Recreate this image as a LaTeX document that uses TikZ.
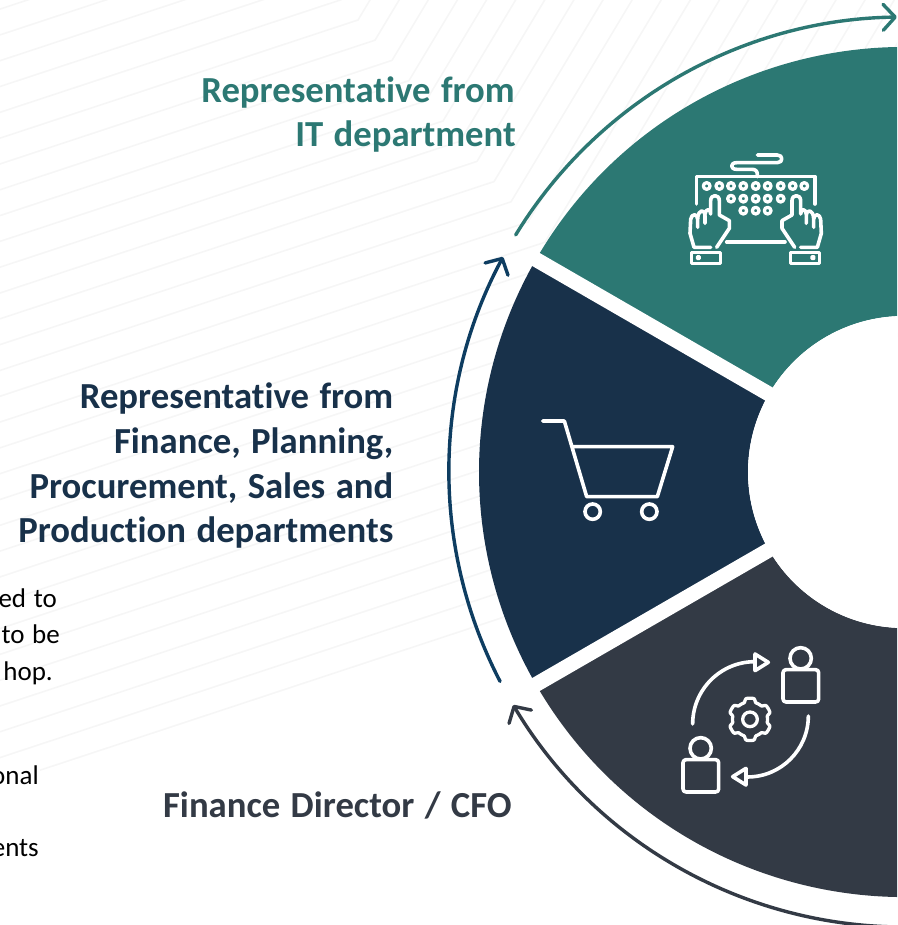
\documentclass[tikz,border=0pt]{standalone}
\usepackage{fontspec}
\setmainfont{Carlito}[Ligatures={NoCommon},WordSpace=1.25]
\usetikzlibrary{arrows.meta}
\definecolor{tealc}{HTML}{2C7873}
\definecolor{navyc}{HTML}{18314A}
\definecolor{darkc}{HTML}{333A45}
\definecolor{navyarrow}{HTML}{0E3D61}
\definecolor{bgline}{HTML}{F6F6F6}
\tikzset{
  heading/.style={anchor=base east,inner sep=0pt,font=\fontsize{36.7}{44}\selectfont\bfseries},
  bodytext/.style={anchor=base east,inner sep=0pt,text=black,font=\fontsize{27}{32}\selectfont},
  ringarrow/.style={line width=3.4pt,line cap=round,-{Straight Barb[length=12pt,width=26pt,line width=3.4pt,round]}},
  icon/.style={draw=white,line width=3.6pt,line cap=round,line join=round},
  iconthin/.style={draw=white,line width=3.3pt,line cap=round,line join=round}
}
\begin{document}
\begin{tikzpicture}[x=1pt,y=-1pt]
\useasboundingbox (0,0) rectangle (897,925);
\clip (0,0) rectangle (897,925);
% background line pattern
\foreach \k in {-6,...,25}{
  \pgfmathsetmacro{\kx}{358+17*\k}
  \pgfmathsetmacro{\ky}{20+20.2*\k}
  \pgfmathsetmacro{\lx}{ifthenelse(\k==25,40,-5)}
  \pgfmathsetmacro{\ly}{\ky+0.33*(\kx-\lx)}
  \pgfmathsetmacro{\tx}{\kx+0.6*(\ky+5)}
  \draw[bgline,line width=1.6pt,line join=round] (\lx,\ly) -- (\kx,\ky) -- (\tx,-5);
}
% ring
\begin{scope}[shift={(904,472)}]
  \fill[tealc] (210:425) arc[start angle=210,end angle=300,radius=425] -- (300:156) arc[start angle=300,end angle=210,radius=156] -- cycle;
  \fill[navyc] (150:425) arc[start angle=150,end angle=210,radius=425] -- (210:156) arc[start angle=210,end angle=150,radius=156] -- cycle;
  \fill[darkc] (60:425) arc[start angle=60,end angle=150,radius=425] -- (150:156) arc[start angle=150,end angle=60,radius=156] -- cycle;
  \fill[white] (0,0) circle[radius=156];
  \draw[white,line width=15pt] (210:130) -- (210:435);
  \draw[white,line width=15pt] (150:130) -- (150:435);
  % arrows around the ring
  \draw[ringarrow,tealc] (211.4:455) arc[start angle=211.4,end angle=269.1,radius=455];
  \draw[ringarrow,navyarrow] (152.6:455) arc[start angle=152.6,end angle=208.2,radius=455];
  \draw[ringarrow,darkc] (90:455) arc[start angle=90,end angle=149.2,radius=455];
\end{scope}
% headings
\node[heading,text=tealc] (it1) at (515,102.5) {Representative from};
\node[heading,text=tealc] (it2) at (516,147) {IT department};
\node[heading,text=navyc] (fin1) at (393.5,408) {Representative from};
\node[heading,text=navyc] (fin2) at (393.5,453) {Finance, Planning,};
\node[heading,text=navyc] (fin3) at (393.5,498) {Procurement, Sales and};
\node[heading,text=navyc] (fin4) at (393.5,542) {Production departments};
\node[heading,text=darkc] (cfo) at (512,817) {Finance Director / CFO};
% clipped body text
\node[bodytext] (b1) at (57,607) {ed to};
\node[bodytext] (b2) at (60,643) {to be};
\node[bodytext] (b3) at (53,680) {hop.};
\node[bodytext] (b4) at (39,784) {onal};
\node[bodytext] (b5) at (39,856) {ents};
% keyboard icon
\begin{scope}[shift={(670,140)},x=0.3333pt,y=-0.3333pt]
  \draw[icon] (80,192) -- (80,110) -- (435,110) -- (435,192);
  \draw[icon] (262,110) -- (262,103) .. controls (262,92) and (255,88) .. (245,88) -- (200,88) .. controls (180,88) and (180,68) .. (200,68) -- (322,68) .. controls (340,68) and (340,45) .. (322,45) -- (262,45);
  \foreach \px in {110,148,183,220,257,293,332,368,403} \draw[iconthin] (\px,138) circle[radius=10];
  \foreach \px in {183,220,257,293,332} \draw[iconthin] (\px,176) circle[radius=10];
  \foreach \px in {220,257,293} \draw[iconthin] (\px,212) circle[radius=10];
  \draw[icon] (170,306) -- (345,306);
  \foreach \m/\s in {0/1,514/-1}{
    \begin{scope}[shift={(\m,0)},xscale=\s]
      \draw[icon] (122,322) -- (72,322) -- (60,280) -- (62,238) .. controls (64,220) and (83,220) .. (83,238) -- (83,262);
      \draw[icon] (83,236) .. controls (84,208) and (105,205) .. (105,228) -- (105,250);
      \draw[icon] (105,222) .. controls (107,205) and (122,205) .. (122,222) -- (122,182) .. controls (122,162) and (148,162) .. (148,182) -- (148,225) -- (178,242) -- (178,265) -- (140,322);
      \draw[icon] (65,337) rectangle (152,370);
      \draw[iconthin] (85,353) circle[radius=4];
    \end{scope}
  }
\end{scope}
% cart icon
\begin{scope}[shift={(520,400)},x=0.3333pt,y=-0.3333pt]
  \draw[icon] (68,63) -- (133,63) -- (200,290) -- (412,290) -- (458,140) -- (155,140);
  \draw[icon] (218,335) circle[radius=23];
  \draw[icon] (388,335) circle[radius=23];
\end{scope}
% people and gear icon
\begin{scope}[shift={(660,630)},x=0.3333pt,y=-0.3333pt]
  \foreach \hx/\hy in {422/85,122/355}{
    \draw[icon,rounded corners=3pt] (\hx-53,\hy+34) rectangle (\hx+54,\hy+131);
    \draw[icon,fill=darkc] (\hx,\hy) circle[radius=32];
  }
  \draw[icon] (98,282) arc[start angle=180,end angle=270,radius=187] -- (285,97);
  \draw[icon] (285,72) -- (325,97) -- (285,122) -- cycle;
  \draw[icon] (445,258) arc[start angle=0,end angle=90,radius=183];
  \draw[icon] (258,415) -- (218,440) -- (258,465) -- cycle;
  \draw[iconthin] plot[domain=0:360,samples=121,smooth] ({270+(58+10*max(-0.55,min(0.55,1.4*cos(6*(\x-90)))))*cos(\x)},{268+(58+10*max(-0.55,min(0.55,1.4*cos(6*(\x-90)))))*sin(\x)});
  \draw[iconthin] (270,268) circle[radius=22];
\end{scope}
\end{tikzpicture}
\end{document}
